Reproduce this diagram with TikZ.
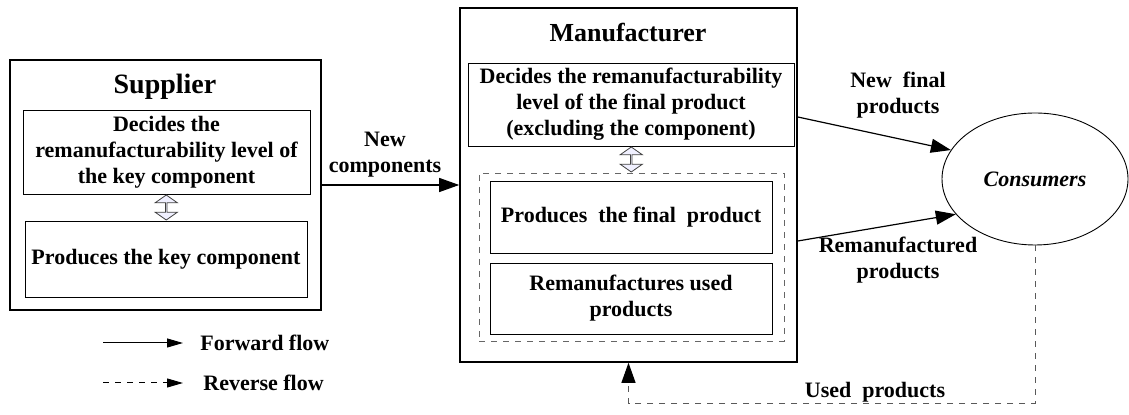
\documentclass[tikz,border=0pt]{standalone}
\usepackage{fontspec}
\setmainfont{Liberation Serif}
\usetikzlibrary{arrows.meta,positioning,calc,shapes.geometric,shapes.arrows}
\newcommand{\txtfont}{\fontsize{11}{13}\selectfont\bfseries}
\newcommand{\titlefont}{\fontsize{13}{15}\selectfont\bfseries}
\tikzset{
  outerbox/.style={draw, line width=0.8pt, inner sep=0pt},
  innerbox/.style={draw, line width=0.45pt, inner sep=0pt, align=center, font=\txtfont},
  groupbox/.style={draw=gray!80!black, dashed, line width=0.45pt, inner sep=0pt},
  titletext/.style={inner sep=0pt, font=\titlefont},
  lbl/.style={inner sep=0pt, align=center, font=\txtfont},
  flow/.style={-{Triangle[length=10pt,width=7pt]}, line width=0.6pt},
  rflow/.style={-{Triangle[length=10pt,width=7pt,color=black]}, line width=0.5pt,
    dashed, draw=gray!70!black},
  legflow/.style={-{Triangle[length=8pt,width=4.5pt]}, line width=0.5pt},
  dblarrow/.style={shape=double arrow, shape border rotate=90, draw=gray!50!black,
    line width=0.4pt, fill=blue!6, inner sep=0pt, minimum width=11pt,
    minimum height=12.5pt, double arrow head extend=2.5pt, double arrow tip angle=110}
}
\begin{document}
\begin{tikzpicture}[x=0.5pt, y=-0.5pt]
    \useasboundingbox (0,0) rectangle (1129,415);

    % Lieferant
    \node[outerbox, minimum width=155.5pt, minimum height=125pt] (sup) at (165.5,185) {};
    \node[titletext, font=\fontsize{14}{16}\selectfont\bfseries] (suptitle) at (165,87) {Supplier};
    \node[innerbox, minimum width=143.5pt, minimum height=42pt] (sdec) at (166.5,152)
        {Decides the\\remanufacturability level of\\the key component};
    \node[innerbox, minimum width=141pt, minimum height=38pt] (sprod) at (166,259)
        {Produces the key component};
    \node[dblarrow] (sdbl) at ($(sdec.south)!0.5!(sprod.north)$) {};

    % Hersteller
    \node[outerbox, minimum width=168.5pt, minimum height=177pt] (man) at (628.5,185) {};
    \node[titletext] (mantitle) at (628,33) {Manufacturer};
    \node[innerbox, minimum width=163pt, minimum height=41.5pt] (mdec) at (631,104.5)
        {Decides the remanufacturability\\level of the final product\\(excluding the component)};
    \node[groupbox, minimum width=152.5pt, minimum height=84pt] (mgroup) at (631.5,257) {};
    \node[innerbox, minimum width=141pt, minimum height=36pt] (mprod) at (631,217)
        {Produces\ \ the final\ \ product};
    \node[innerbox, minimum width=141pt, minimum height=35.5pt] (mreman) at (631,298.5)
        {Remanufactures used\\products};
    \node[dblarrow] (mdbl) at ($(mdec.south)!0.5!(mgroup.north)$) {};

    % Konsumenten
    \node[draw, ellipse, line width=0.45pt, inner sep=0pt, minimum width=93pt,
        minimum height=66pt, font=\txtfont\itshape] (cons) at (1035,179) {Consumers};

    % Fluesse
    \draw[flow] (sup.east) -- (sup.east -| man.west);
    \node[lbl] (newcomp) at (385,155) {New\\components};
    \draw[flow] ([yshift=34pt]man.east) -- (cons.161);
    \node[lbl] (newfinal) at (898,95) {New\ \ final\\products};
    \draw[flow] ([yshift=-28pt]man.east) -- (cons.204);
    \node[lbl] (remprod) at (898,260) {Remanufactured\\products};
    \draw[rflow] (cons.south) -- ++(0,158) -| (man.south);
    \node[lbl] (usedprod) at (875,392) {Used\ \ products};

    % Legende
    \coordinate (fwdA) at (103,343);
    \coordinate (fwdB) at (183,343);
    \draw[legflow] (fwdA) -- (fwdB);
    \node[lbl, right=8.5pt of fwdB] (fwdtext) {Forward flow};
    \coordinate (revA) at (103,383);
    \coordinate (revB) at (183,383);
    \draw[legflow, dashed] (revA) -- (revB);
    \node[lbl, right=10pt of revB] (revtext) {Reverse flow};
\end{tikzpicture}
\end{document}
